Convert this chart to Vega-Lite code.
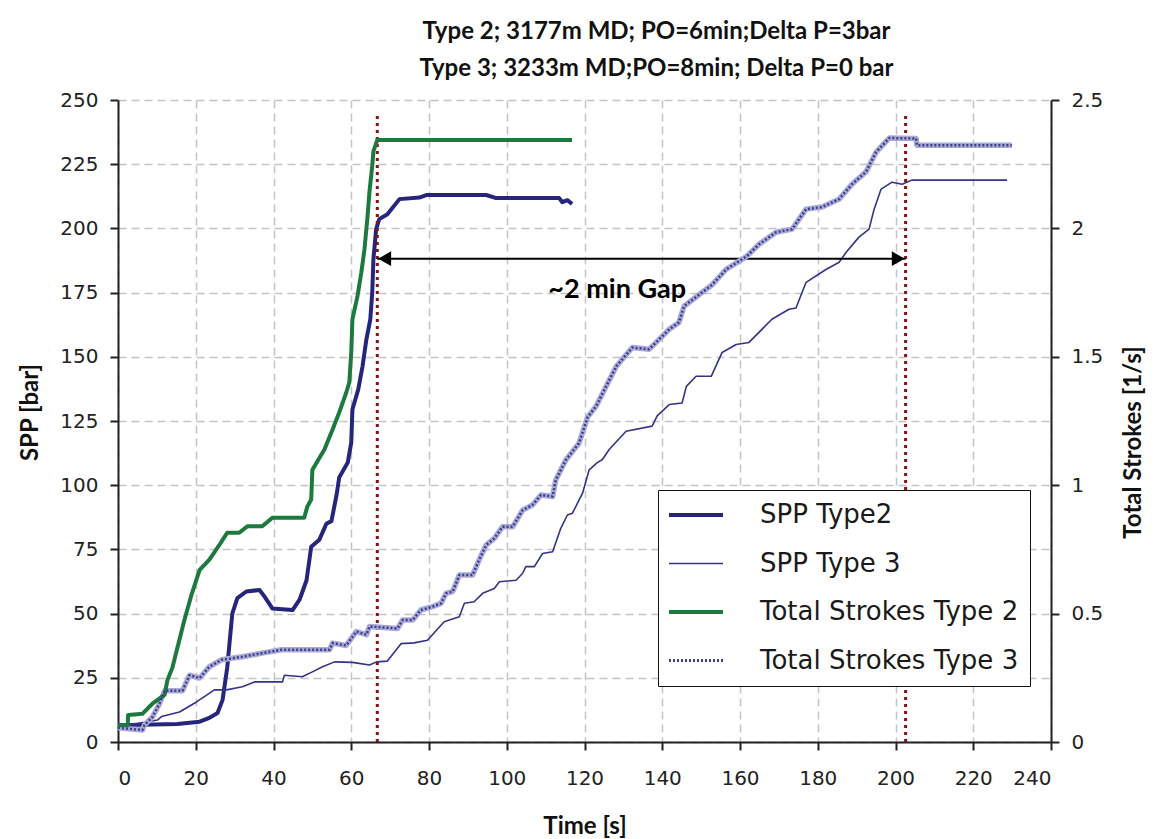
{
  "$schema": "https://vega.github.io/schema/vega-lite/v6.json",
  "autosize": {"type": "none"},
  "width": 933,
  "height": 642,
  "padding": {"left": 118, "top": 100, "right": 105, "bottom": 97},
  "background": "white",
  "title": {
    "text": ["Type 2; 3177m MD; PO=6min;Delta P=3bar", "Type 3; 3233m MD;PO=8min; Delta P=0 bar"],
    "font": "Lato",
    "fontWeight": "bold",
    "fontSize": 24,
    "lineHeight": 37,
    "color": "#111111",
    "anchor": "middle",
    "frame": "group",
    "dx": 72,
    "offset": 9
  },
  "config": {
    "view": {"stroke": null},
    "axis": {
      "labelFont": "DejaVu Sans",
      "labelFontSize": 20,
      "labelColor": "#222222",
      "titleFont": "Lato",
      "titleFontWeight": "bold",
      "titleFontSize": 24,
      "titleColor": "#111111",
      "domainColor": "#222222",
      "domainWidth": 2,
      "tickColor": "#222222",
      "tickWidth": 2,
      "tickSize": 8,
      "gridColor": "#c4c4c4",
      "gridDash": [8, 5],
      "gridWidth": 1.5
    }
  },
  "datasets": {
    "spp": [
      {"series": "SPP Type2", "t": 0, "v": 6.5},
      {"series": "SPP Type2", "t": 15.3, "v": 7},
      {"series": "SPP Type2", "t": 21, "v": 7.9},
      {"series": "SPP Type2", "t": 23.5, "v": 9.4},
      {"series": "SPP Type2", "t": 25.6, "v": 11.3},
      {"series": "SPP Type2", "t": 26.9, "v": 16.4},
      {"series": "SPP Type2", "t": 28.1, "v": 29},
      {"series": "SPP Type2", "t": 29.4, "v": 50},
      {"series": "SPP Type2", "t": 30.7, "v": 56},
      {"series": "SPP Type2", "t": 33, "v": 58.6},
      {"series": "SPP Type2", "t": 36.4, "v": 59.2},
      {"series": "SPP Type2", "t": 37.7, "v": 56.6},
      {"series": "SPP Type2", "t": 39.7, "v": 52},
      {"series": "SPP Type2", "t": 44.9, "v": 51.4},
      {"series": "SPP Type2", "t": 46.7, "v": 55.4},
      {"series": "SPP Type2", "t": 48.5, "v": 63},
      {"series": "SPP Type2", "t": 49.7, "v": 76},
      {"series": "SPP Type2", "t": 51.8, "v": 78.8},
      {"series": "SPP Type2", "t": 53.6, "v": 85},
      {"series": "SPP Type2", "t": 54.9, "v": 86},
      {"series": "SPP Type2", "t": 56.2, "v": 96},
      {"series": "SPP Type2", "t": 56.9, "v": 103},
      {"series": "SPP Type2", "t": 59.1, "v": 108.8},
      {"series": "SPP Type2", "t": 60, "v": 116.6},
      {"series": "SPP Type2", "t": 60.3, "v": 129.5},
      {"series": "SPP Type2", "t": 61.8, "v": 137.3},
      {"series": "SPP Type2", "t": 62.9, "v": 146.3},
      {"series": "SPP Type2", "t": 63.9, "v": 156.8},
      {"series": "SPP Type2", "t": 64.9, "v": 164.6},
      {"series": "SPP Type2", "t": 65.4, "v": 175},
      {"series": "SPP Type2", "t": 65.7, "v": 188},
      {"series": "SPP Type2", "t": 66.4, "v": 199.7},
      {"series": "SPP Type2", "t": 67.2, "v": 203.6},
      {"series": "SPP Type2", "t": 69.3, "v": 205.5},
      {"series": "SPP Type2", "t": 72.4, "v": 211.4},
      {"series": "SPP Type2", "t": 77.5, "v": 212},
      {"series": "SPP Type2", "t": 79.3, "v": 213},
      {"series": "SPP Type2", "t": 94.7, "v": 213},
      {"series": "SPP Type2", "t": 97.3, "v": 211.8},
      {"series": "SPP Type2", "t": 113.5, "v": 211.8},
      {"series": "SPP Type2", "t": 114.3, "v": 210.2},
      {"series": "SPP Type2", "t": 115.6, "v": 211},
      {"series": "SPP Type2", "t": 116.8, "v": 209.5},

      {"series": "SPP Type 3", "t": 0, "v": 5.9},
      {"series": "SPP Type 3", "t": 10.2, "v": 8.6},
      {"series": "SPP Type 3", "t": 11.2, "v": 9.9},
      {"series": "SPP Type 3", "t": 15.8, "v": 11.7},
      {"series": "SPP Type 3", "t": 20.2, "v": 15.6},
      {"series": "SPP Type 3", "t": 24.8, "v": 20.3},
      {"series": "SPP Type 3", "t": 27.9, "v": 20.3},
      {"series": "SPP Type 3", "t": 32, "v": 21.5},
      {"series": "SPP Type 3", "t": 35.1, "v": 23.4},
      {"series": "SPP Type 3", "t": 42.3, "v": 23.4},
      {"series": "SPP Type 3", "t": 42.8, "v": 26},
      {"series": "SPP Type 3", "t": 47.4, "v": 25.4},
      {"series": "SPP Type 3", "t": 50, "v": 27.3},
      {"series": "SPP Type 3", "t": 52.6, "v": 29.3},
      {"series": "SPP Type 3", "t": 55.7, "v": 31.2},
      {"series": "SPP Type 3", "t": 60.3, "v": 31},
      {"series": "SPP Type 3", "t": 64.7, "v": 30},
      {"series": "SPP Type 3", "t": 66.5, "v": 31.2},
      {"series": "SPP Type 3", "t": 69.3, "v": 31.5},
      {"series": "SPP Type 3", "t": 72.8, "v": 38.3},
      {"series": "SPP Type 3", "t": 76.2, "v": 38.6},
      {"series": "SPP Type 3", "t": 79.6, "v": 39.6},
      {"series": "SPP Type 3", "t": 83.9, "v": 46.8},
      {"series": "SPP Type 3", "t": 87.8, "v": 48.8},
      {"series": "SPP Type 3", "t": 89.1, "v": 54},
      {"series": "SPP Type 3", "t": 91.6, "v": 54.6},
      {"series": "SPP Type 3", "t": 93.8, "v": 57.9},
      {"series": "SPP Type 3", "t": 96.8, "v": 59.8},
      {"series": "SPP Type 3", "t": 98.1, "v": 62.4},
      {"series": "SPP Type 3", "t": 102.4, "v": 63},
      {"series": "SPP Type 3", "t": 104.1, "v": 65.7},
      {"series": "SPP Type 3", "t": 104.9, "v": 68.3},
      {"series": "SPP Type 3", "t": 107.1, "v": 68.3},
      {"series": "SPP Type 3", "t": 109.2, "v": 73.4},
      {"series": "SPP Type 3", "t": 111.8, "v": 74.1},
      {"series": "SPP Type 3", "t": 113.9, "v": 83.2},
      {"series": "SPP Type 3", "t": 115.6, "v": 88.4},
      {"series": "SPP Type 3", "t": 116.9, "v": 89.1},
      {"series": "SPP Type 3", "t": 119.5, "v": 96.9},
      {"series": "SPP Type 3", "t": 121.2, "v": 106},
      {"series": "SPP Type 3", "t": 123.3, "v": 108.8},
      {"series": "SPP Type 3", "t": 124.6, "v": 110},
      {"series": "SPP Type 3", "t": 126.4, "v": 114},
      {"series": "SPP Type 3", "t": 130.7, "v": 121},
      {"series": "SPP Type 3", "t": 137.4, "v": 123},
      {"series": "SPP Type 3", "t": 138.7, "v": 127},
      {"series": "SPP Type 3", "t": 141.8, "v": 131.4},
      {"series": "SPP Type 3", "t": 145.1, "v": 132},
      {"series": "SPP Type 3", "t": 146.2, "v": 138.5},
      {"series": "SPP Type 3", "t": 148.7, "v": 142.4},
      {"series": "SPP Type 3", "t": 152.6, "v": 142.4},
      {"series": "SPP Type 3", "t": 155.4, "v": 151.7},
      {"series": "SPP Type 3", "t": 159, "v": 154.8},
      {"series": "SPP Type 3", "t": 162.3, "v": 155.6},
      {"series": "SPP Type 3", "t": 168.2, "v": 164.6},
      {"series": "SPP Type 3", "t": 172.6, "v": 168.5},
      {"series": "SPP Type 3", "t": 174.4, "v": 169},
      {"series": "SPP Type 3", "t": 177, "v": 179},
      {"series": "SPP Type 3", "t": 182.1, "v": 184},
      {"series": "SPP Type 3", "t": 185.5, "v": 186.8},
      {"series": "SPP Type 3", "t": 187.3, "v": 190.7},
      {"series": "SPP Type 3", "t": 190.6, "v": 196.6},
      {"series": "SPP Type 3", "t": 193.2, "v": 199.7},
      {"series": "SPP Type 3", "t": 194.5, "v": 207.5},
      {"series": "SPP Type 3", "t": 196.3, "v": 215.3},
      {"series": "SPP Type 3", "t": 199.1, "v": 218},
      {"series": "SPP Type 3", "t": 201.7, "v": 217.2},
      {"series": "SPP Type 3", "t": 204.2, "v": 218.8},
      {"series": "SPP Type 3", "t": 228.7, "v": 218.8}
    ],
    "strokes": [
      {"series": "Total Strokes Type 2", "t": 0, "s": 0.065},
      {"series": "Total Strokes Type 2", "t": 2.5, "s": 0.065},
      {"series": "Total Strokes Type 2", "t": 2.6, "s": 0.105},
      {"series": "Total Strokes Type 2", "t": 6.3, "s": 0.11},
      {"series": "Total Strokes Type 2", "t": 8.9, "s": 0.15},
      {"series": "Total Strokes Type 2", "t": 12, "s": 0.184},
      {"series": "Total Strokes Type 2", "t": 12.7, "s": 0.24},
      {"series": "Total Strokes Type 2", "t": 14, "s": 0.29},
      {"series": "Total Strokes Type 2", "t": 15.8, "s": 0.398},
      {"series": "Total Strokes Type 2", "t": 17.1, "s": 0.476},
      {"series": "Total Strokes Type 2", "t": 18.9, "s": 0.573},
      {"series": "Total Strokes Type 2", "t": 21, "s": 0.67},
      {"series": "Total Strokes Type 2", "t": 23.5, "s": 0.71},
      {"series": "Total Strokes Type 2", "t": 26.1, "s": 0.768},
      {"series": "Total Strokes Type 2", "t": 28.1, "s": 0.815},
      {"series": "Total Strokes Type 2", "t": 31.2, "s": 0.815},
      {"series": "Total Strokes Type 2", "t": 33.3, "s": 0.84},
      {"series": "Total Strokes Type 2", "t": 37.1, "s": 0.84},
      {"series": "Total Strokes Type 2", "t": 39.7, "s": 0.873},
      {"series": "Total Strokes Type 2", "t": 47.9, "s": 0.873},
      {"series": "Total Strokes Type 2", "t": 48.7, "s": 0.917},
      {"series": "Total Strokes Type 2", "t": 49.7, "s": 0.944},
      {"series": "Total Strokes Type 2", "t": 50, "s": 1.06},
      {"series": "Total Strokes Type 2", "t": 53.1, "s": 1.139},
      {"series": "Total Strokes Type 2", "t": 55.2, "s": 1.217},
      {"series": "Total Strokes Type 2", "t": 56.9, "s": 1.283},
      {"series": "Total Strokes Type 2", "t": 58.7, "s": 1.36},
      {"series": "Total Strokes Type 2", "t": 59.5, "s": 1.4},
      {"series": "Total Strokes Type 2", "t": 60, "s": 1.517},
      {"series": "Total Strokes Type 2", "t": 60.3, "s": 1.646},
      {"series": "Total Strokes Type 2", "t": 61.6, "s": 1.736},
      {"series": "Total Strokes Type 2", "t": 62.6, "s": 1.829},
      {"series": "Total Strokes Type 2", "t": 63.4, "s": 1.919},
      {"series": "Total Strokes Type 2", "t": 64.2, "s": 2.048},
      {"series": "Total Strokes Type 2", "t": 64.7, "s": 2.145},
      {"series": "Total Strokes Type 2", "t": 65.4, "s": 2.243},
      {"series": "Total Strokes Type 2", "t": 65.7, "s": 2.3},
      {"series": "Total Strokes Type 2", "t": 66.7, "s": 2.344},
      {"series": "Total Strokes Type 2", "t": 116.8, "s": 2.344},

      {"series": "Total Strokes Type 3", "t": 0, "s": 0.055},
      {"series": "Total Strokes Type 3", "t": 6.3, "s": 0.047},
      {"series": "Total Strokes Type 3", "t": 6.8, "s": 0.066},
      {"series": "Total Strokes Type 3", "t": 8.9, "s": 0.098},
      {"series": "Total Strokes Type 3", "t": 10.7, "s": 0.15},
      {"series": "Total Strokes Type 3", "t": 12, "s": 0.2},
      {"series": "Total Strokes Type 3", "t": 16.6, "s": 0.2},
      {"series": "Total Strokes Type 3", "t": 18.4, "s": 0.26},
      {"series": "Total Strokes Type 3", "t": 21, "s": 0.249},
      {"series": "Total Strokes Type 3", "t": 23.5, "s": 0.293},
      {"series": "Total Strokes Type 3", "t": 26.6, "s": 0.32},
      {"series": "Total Strokes Type 3", "t": 32, "s": 0.332},
      {"series": "Total Strokes Type 3", "t": 37.1, "s": 0.346},
      {"series": "Total Strokes Type 3", "t": 42, "s": 0.359},
      {"series": "Total Strokes Type 3", "t": 54.4, "s": 0.359},
      {"series": "Total Strokes Type 3", "t": 55.2, "s": 0.385},
      {"series": "Total Strokes Type 3", "t": 58.7, "s": 0.376},
      {"series": "Total Strokes Type 3", "t": 61.3, "s": 0.43},
      {"series": "Total Strokes Type 3", "t": 63.9, "s": 0.418},
      {"series": "Total Strokes Type 3", "t": 64.7, "s": 0.45},
      {"series": "Total Strokes Type 3", "t": 71.9, "s": 0.442},
      {"series": "Total Strokes Type 3", "t": 73.2, "s": 0.475},
      {"series": "Total Strokes Type 3", "t": 75.8, "s": 0.475},
      {"series": "Total Strokes Type 3", "t": 77.9, "s": 0.514},
      {"series": "Total Strokes Type 3", "t": 80.9, "s": 0.527},
      {"series": "Total Strokes Type 3", "t": 83.1, "s": 0.54},
      {"series": "Total Strokes Type 3", "t": 84.4, "s": 0.579},
      {"series": "Total Strokes Type 3", "t": 86.1, "s": 0.586},
      {"series": "Total Strokes Type 3", "t": 87.8, "s": 0.65},
      {"series": "Total Strokes Type 3", "t": 91.2, "s": 0.65},
      {"series": "Total Strokes Type 3", "t": 92.9, "s": 0.709},
      {"series": "Total Strokes Type 3", "t": 94.7, "s": 0.767},
      {"series": "Total Strokes Type 3", "t": 96.8, "s": 0.793},
      {"series": "Total Strokes Type 3", "t": 98.9, "s": 0.838},
      {"series": "Total Strokes Type 3", "t": 101.5, "s": 0.838},
      {"series": "Total Strokes Type 3", "t": 104.1, "s": 0.903},
      {"series": "Total Strokes Type 3", "t": 106.6, "s": 0.923},
      {"series": "Total Strokes Type 3", "t": 108.8, "s": 0.962},
      {"series": "Total Strokes Type 3", "t": 111.8, "s": 0.956},
      {"series": "Total Strokes Type 3", "t": 112.6, "s": 1.02},
      {"series": "Total Strokes Type 3", "t": 115.2, "s": 1.098},
      {"series": "Total Strokes Type 3", "t": 118.6, "s": 1.164},
      {"series": "Total Strokes Type 3", "t": 120.8, "s": 1.265},
      {"series": "Total Strokes Type 3", "t": 123, "s": 1.308},
      {"series": "Total Strokes Type 3", "t": 126.4, "s": 1.41},
      {"series": "Total Strokes Type 3", "t": 128.2, "s": 1.463},
      {"series": "Total Strokes Type 3", "t": 132.3, "s": 1.536},
      {"series": "Total Strokes Type 3", "t": 136.6, "s": 1.529},
      {"series": "Total Strokes Type 3", "t": 139.2, "s": 1.568},
      {"series": "Total Strokes Type 3", "t": 141.8, "s": 1.607},
      {"series": "Total Strokes Type 3", "t": 144.3, "s": 1.634},
      {"series": "Total Strokes Type 3", "t": 145.6, "s": 1.697},
      {"series": "Total Strokes Type 3", "t": 151.3, "s": 1.763},
      {"series": "Total Strokes Type 3", "t": 152.8, "s": 1.78},
      {"series": "Total Strokes Type 3", "t": 156.4, "s": 1.84},
      {"series": "Total Strokes Type 3", "t": 161.6, "s": 1.89},
      {"series": "Total Strokes Type 3", "t": 164.9, "s": 1.938},
      {"series": "Total Strokes Type 3", "t": 169.3, "s": 1.985},
      {"series": "Total Strokes Type 3", "t": 173.4, "s": 1.997},
      {"series": "Total Strokes Type 3", "t": 177, "s": 2.075},
      {"series": "Total Strokes Type 3", "t": 181.1, "s": 2.083},
      {"series": "Total Strokes Type 3", "t": 185.5, "s": 2.114},
      {"series": "Total Strokes Type 3", "t": 188.8, "s": 2.172},
      {"series": "Total Strokes Type 3", "t": 192.4, "s": 2.22},
      {"series": "Total Strokes Type 3", "t": 195, "s": 2.297},
      {"series": "Total Strokes Type 3", "t": 198.4, "s": 2.352},
      {"series": "Total Strokes Type 3", "t": 205.3, "s": 2.35},
      {"series": "Total Strokes Type 3", "t": 205.5, "s": 2.324},
      {"series": "Total Strokes Type 3", "t": 229.9, "s": 2.324}
    ],
    "markers": [
      {"t": 66.7, "bottom": 0, "top": 245},
      {"t": 202.6, "bottom": 0, "top": 245}
    ],
    "gap": [
      {"from": 66.7, "to": 202.6, "v": 188.2}
    ],
    "heads": [
      {"t": 68.6, "v": 188.2, "dir": "triangle-left"},
      {"t": 200.7, "v": 188.2, "dir": "triangle-right"}
    ],
    "note": [
      {"t": 128.4, "v": 176, "label": "~2 min Gap"}
    ]
  },
  "layer": [
    {
      "layer": [
        {
          "data": {"name": "spp"},
          "mark": {"type": "line", "strokeJoin": "round", "strokeCap": "butt"},
          "encoding": {
            "x": {
              "field": "t", "type": "quantitative",
              "scale": {"domain": [0, 240], "nice": false, "zero": false},
              "axis": {
                "title": "Time [s]",
                "values": [0, 20, 40, 60, 80, 100, 120, 140, 160, 180, 200, 220, 240],
                "labelPadding": 18,
                "titleY": 84,
                "titleBaseline": "middle",
                "grid": true
              }
            },
            "y": {
              "field": "v", "type": "quantitative",
              "scale": {"domain": [0, 250], "nice": false},
              "axis": {
                "title": "SPP [bar]",
                "values": [0, 25, 50, 75, 100, 125, 150, 175, 200, 225, 250],
                "labelPadding": 12,
                "titleX": -88,
                "titleY": 312,
                "titleBaseline": "middle",
                "titleAngle": -90,
                "grid": true
              }
            },
            "color": {
              "field": "series", "type": "nominal",
              "scale": {
                "domain": ["SPP Type2", "SPP Type 3", "Total Strokes Type 2", "Total Strokes Type 3"],
                "range": ["#25257d", "#33338a", "#1d7a3e", "#3c3c8e"]
              },
              "legend": {
                "title": null,
                "orient": "none",
                "legendX": 540,
                "legendY": 390,
                "symbolType": "stroke",
                "symbolSize": 6724,
                "clipHeight": 28,
                "rowPadding": 20.5,
                "padding": 11,
                "strokeColor": "#111111",
                "fillColor": "white",
                "labelFont": "DejaVu Sans",
                "labelFontSize": 26,
                "labelColor": "#1a1a1a",
                "labelOffset": 65,
                "labelLimit": 400,
                "encode": {
                  "symbols": {
                    "update": {
                      "strokeWidth": {"signal": "datum.value === 'SPP Type 3' ? 1.6 : datum.value === 'Total Strokes Type 3' ? 3 : 4"},
                      "strokeDash": {"signal": "datum.value === 'Total Strokes Type 3' ? [2, 2] : [1, 0]"}
                    }
                  }
                }
              }
            },
            "strokeWidth": {"condition": {"test": "datum.series === 'SPP Type 3'", "value": 1.6}, "value": 4}
          }
        },
        {
          "data": {"name": "markers"},
          "mark": {"type": "rule", "color": "#8b1010", "strokeWidth": 3, "strokeDash": [3, 4]},
          "encoding": {
            "x": {"field": "t", "type": "quantitative"},
            "y": {"field": "bottom", "type": "quantitative"},
            "y2": {"field": "top"}
          }
        },
        {
          "data": {"name": "gap"},
          "mark": {"type": "rule", "color": "#000000", "strokeWidth": 2},
          "encoding": {
            "x": {"field": "from", "type": "quantitative"},
            "x2": {"field": "to"},
            "y": {"field": "v", "type": "quantitative"}
          }
        },
        {
          "data": {"name": "heads"},
          "mark": {"type": "point", "filled": true, "color": "#000000", "size": 220, "opacity": 1},
          "encoding": {
            "x": {"field": "t", "type": "quantitative"},
            "y": {"field": "v", "type": "quantitative"},
            "shape": {"field": "dir", "type": "nominal", "scale": null}
          }
        },
        {
          "data": {"name": "note"},
          "mark": {"type": "text", "font": "Lato", "fontWeight": "bold", "fontSize": 27, "color": "#000000", "align": "center", "baseline": "middle"},
          "encoding": {
            "x": {"field": "t", "type": "quantitative"},
            "y": {"field": "v", "type": "quantitative"},
            "text": {"field": "label"}
          }
        }
      ]
    },
    {
      "layer": [
        {
          "data": {"name": "strokes"},
          "transform": [{"filter": "datum.series === 'Total Strokes Type 3'"}],
          "mark": {"type": "line", "color": "#aaaad6", "strokeWidth": 5.5, "strokeJoin": "round"},
          "encoding": {
            "x": {"field": "t", "type": "quantitative"},
            "y": {
              "field": "s", "type": "quantitative",
              "scale": {"domain": [0, 2.5], "nice": false},
              "axis": {
                "orient": "right",
                "title": "Total Strokes [1/s]",
                "values": [0, 0.5, 1, 1.5, 2, 2.5],
                "format": "~g",
                "labelPadding": 12,
                "grid": false,
                "titleX": 82,
                "titleY": 342,
                "titleBaseline": "middle",
                "titleAngle": -90
              }
            }
          }
        },
        {
          "data": {"name": "strokes"},
          "mark": {"type": "line", "strokeJoin": "round", "strokeCap": "butt"},
          "encoding": {
            "x": {"field": "t", "type": "quantitative"},
            "y": {"field": "s", "type": "quantitative"},
            "color": {
              "field": "series", "type": "nominal",
              "scale": {
                "domain": ["SPP Type2", "SPP Type 3", "Total Strokes Type 2", "Total Strokes Type 3"],
                "range": ["#25257d", "#33338a", "#1d7a3e", "#3c3c8e"]
              }
            },
            "strokeWidth": {"condition": {"test": "datum.series === 'Total Strokes Type 3'", "value": 2.5}, "value": 4},
            "strokeDash": {"condition": {"test": "datum.series === 'Total Strokes Type 3'", "value": [2, 2]}, "value": [1, 0]}
          }
        }
      ]
    }
  ],
  "resolve": {"scale": {"y": "independent"}}
}
